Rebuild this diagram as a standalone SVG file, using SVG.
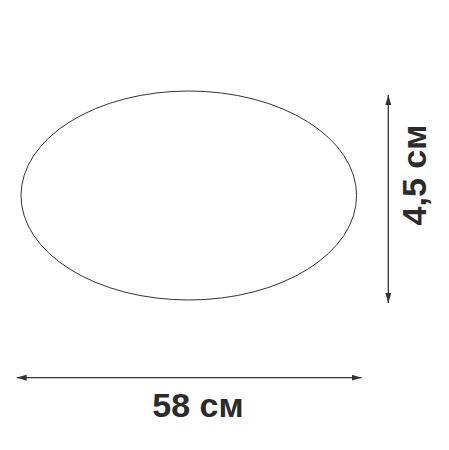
<svg xmlns="http://www.w3.org/2000/svg" width="449" height="450" viewBox="0 0 449 450">
<style>
.dim{stroke:#333;stroke-width:1.3;fill:none}
.lbl{font-family:"Liberation Sans",Arial,sans-serif;font-weight:bold;font-size:34px;fill:#2b2b2b}
</style>
<defs>
<marker id="ah" viewBox="0 0 10 6" refX="10" refY="3" markerWidth="10" markerHeight="6" markerUnits="userSpaceOnUse" orient="auto-start-reverse">
<path d="M0,0 L10,3 L0,6 Z" fill="#333"/>
</marker>
</defs>
<rect width="449" height="450" fill="#fff"/>
<g id="shape">
<ellipse cx="188.8" cy="195.5" rx="167.8" ry="104.5" fill="none" stroke="#333" stroke-width="1"/>
</g>
<g id="connectors">
<line class="dim" x1="388.3" y1="95" x2="388.3" y2="303" marker-start="url(#ah)" marker-end="url(#ah)"/>
<line class="dim" x1="16.7" y1="377.7" x2="361.7" y2="377.7" marker-start="url(#ah)" marker-end="url(#ah)"/>
</g>
<g id="height-label">
<text class="lbl" transform="translate(426,175) rotate(-90)" text-anchor="middle">4,5 см</text>
</g>
<g id="width-label">
<text class="lbl" x="198" y="416.5" text-anchor="middle">58 см</text>
</g>
</svg>
